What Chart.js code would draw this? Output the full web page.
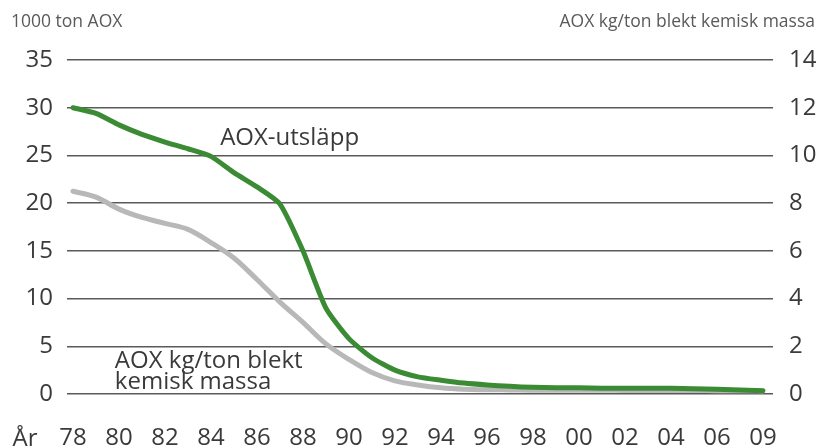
<!DOCTYPE html>
<html><head><meta charset="utf-8">
<script src="https://cdn.jsdelivr.net/npm/chart.js@4/dist/chart.umd.min.js"></script>
<style>html,body{margin:0;padding:0;background:#fff;}#wrap{width:817px;height:448px;}</style>
</head><body><div id="wrap"><canvas id="c" width="817" height="448"></canvas></div>
<script>
const tickLabels = ['78','80','82','84','86','88','90','92','94','96','98','00','02','04','06','09'];
const years = [1978,1979,1980,1981,1982,1983,1984,1985,1986,1987,1988,1989,1990,1991,1992,1993,1994,1995,1996,1997,1998,1999,2000,2001,2002,2003,2004,2005,2006,2007,2008,2009];
const aoxEmission = [30.0,29.4,28.2,27.2,26.4,25.7,24.9,23.2,21.7,19.9,15.0,9.0,5.8,3.8,2.5,1.8,1.45,1.15,0.95,0.8,0.7,0.65,0.65,0.6,0.6,0.6,0.6,0.55,0.5,0.45,0.4,0.35];
const aoxPerTon = [8.5,8.25,7.75,7.4,7.15,6.9,6.35,5.7,4.8,3.85,3.0,2.1,1.45,0.9,0.55,0.38,0.26,0.2,0.18,0.17,0.16,0.16,0.16,0.16,0.15,0.15,0.15,0.15,0.14,0.14,0.14,0.13];
const leftTitle = '1000 ton AOX';
const rightTitle = 'AOX kg/ton blekt kemisk massa';
const xTitle = 'År';
const labelGreen = 'AOX-utsläpp';
const labelGray = ['AOX kg/ton blekt', 'kemisk massa'];

// position of a year on the evenly spaced label axis
function yearPos(y){ return y <= 2006 ? (y-1978)/2 : 14 + (y-2006)/3; }

const FONT = '"Open Sans", "Noto Sans", sans-serif';
const TXT = '#3a3a3a';

const textPlugin = {
  id: 'texts',
  afterDraw(chart){
    const ctx = chart.ctx, x = chart.scales.x, y = chart.scales.y;
    ctx.save();
    ctx.fillStyle = '#5a5a5a';
    ctx.font = '17.5px ' + FONT;
    ctx.textBaseline = 'middle';
    ctx.textAlign = 'left';
    ctx.fillText(leftTitle, 11, 22);
    ctx.textAlign = 'right';
    ctx.fillText(rightTitle, 815, 22);
    ctx.fillStyle = TXT;
    ctx.font = '24px ' + FONT;
    ctx.textAlign = 'center';
    ctx.fillText(xTitle, 25, 439);
    ctx.textAlign = 'left';
    ctx.fillText(labelGreen, x.getPixelForValue(3.2), y.getPixelForValue(26.8));
    ctx.fillText(labelGray[0], x.getPixelForValue(0.91), y.getPixelForValue(3.4));
    ctx.fillText(labelGray[1], x.getPixelForValue(0.91), y.getPixelForValue(1.2));
    ctx.restore();
  }
};

new Chart(document.getElementById('c'), {
  type: 'line',
  data: {
    datasets: [
      { label: 'AOX-utsläpp', data: years.map((yr,i)=>({x: yearPos(yr), y: aoxEmission[i]})),
        yAxisID: 'y', borderColor: '#3b8b34', borderWidth: 5, pointRadius: 0,
        tension: 0.2, borderCapStyle: 'round', borderJoinStyle: 'round', order: 1 },
      { label: 'AOX kg/ton', data: years.map((yr,i)=>({x: yearPos(yr), y: aoxPerTon[i]})),
        yAxisID: 'y1', borderColor: '#b8b8b8', borderWidth: 5, pointRadius: 0,
        tension: 0.3, cubicInterpolationMode: 'monotone', borderCapStyle: 'round', borderJoinStyle: 'round', order: 2 }
    ]
  },
  options: {
    responsive: false, animation: false, devicePixelRatio: 1,
    layout: { padding: { top: 60, left: 0, right: 0, bottom: 0 } },
    plugins: { legend: { display: false }, tooltip: { enabled: false } },
    scales: {
      x: {
        type: 'linear', min: -0.13, max: 15.22,
        afterBuildTicks(s){ s.ticks = tickLabels.map((t,i)=>({value: i})); },
        afterFit(s){ s.height = 54; },
        ticks: { autoSkip: false, maxRotation: 0, padding: 22, color: TXT, font: { family: FONT, size: 24 },
          callback: (v)=> tickLabels[v] },
        grid: { display: false }, border: { display: false }
      },
      y: {
        position: 'left', min: 0, max: 35,
        afterFit(s){ s.width = 67; },
        ticks: { stepSize: 5, padding: 14, color: TXT, font: { family: FONT, size: 24 } },
        grid: { color: '#5a5a5a', lineWidth: 1.5, drawTicks: false }, border: { display: false }
      },
      y1: {
        position: 'right', min: 0, max: 14,
        afterFit(s){ s.width = 44; },
        ticks: { stepSize: 2, padding: 8, color: TXT, font: { family: FONT, size: 24 } },
        grid: { display: false }, border: { display: false }
      }
    }
  },
  plugins: [textPlugin]
});
</script></body></html>
